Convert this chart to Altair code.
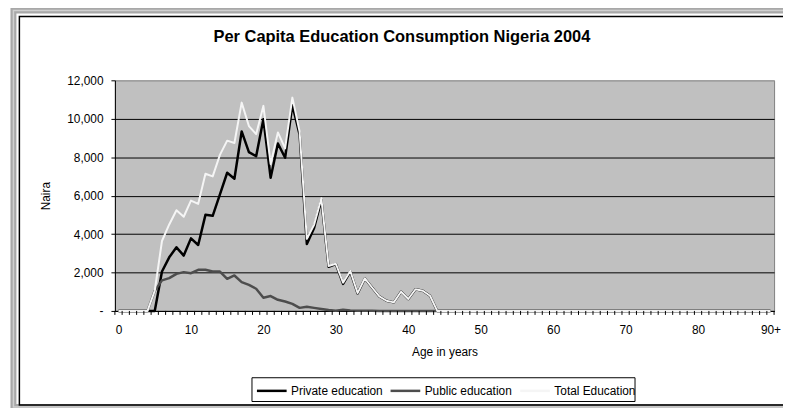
import altair as alt
import pandas as pd

# ---- data ----
ages = list(range(91))
series_names = ["Private education", "Public education", "Total Education"]

private_edu = [0, 0, 0, 0, 0, 0, 2050, 2790, 3310, 2880, 3775, 3430, 5000, 4950, 6070,
               7190, 6880, 9340, 8260, 8050, 9980, 6930, 8710, 7970, 10720, 9170, 3480,
               4320, 5780, 2295, 2440, 1405, 2050, 915, 1692, 1216, 755, 530, 445, 1000,
               620, 1130, 1050, 790] + [0] * 47
public_edu = [0, 0, 0, 0, 0, 1050, 1590, 1710, 1930, 2020, 1965, 2140, 2140, 2050, 2050,
              1670, 1845, 1500, 1360, 1155, 690, 775, 580, 490, 370, 160, 215, 160, 100,
              45, 15, 65, 30, 15, 8, 4, 0, 0, 0, 0, 0, 0, 0, 0] + [0] * 47
total_edu = [0, 0, 0, 0, 0, 1050, 3640, 4500, 5240, 4900, 5740, 5570, 7140, 7000, 8120,
             8860, 8740, 10840, 9620, 9200, 10670, 7650, 9290, 8460, 11100, 9330, 3750,
             4480, 5860, 2340, 2455, 1470, 2080, 930, 1700, 1220, 755, 530, 445, 1000,
             620, 1130, 1050, 790] + [0] * 47

x_label_values = [0, 10, 20, 30, 40, 50, 60, 70, 80, 90]
y_tick_values = [0, 2000, 4000, 6000, 8000, 10000, 12000]
minor_tick_positions = [a - 0.5 for a in range(92)]  # category boundaries

series_colors = ["#000000", "#4d4d4d", "#f5f5f5"]
chart_title = "Per Capita Education Consumption Nigeria 2004"

FONT = "Liberation Sans"


def series_df(name, vals):
    return pd.DataFrame({"age": ages, "value": vals, "series": name})


df_priv = series_df(series_names[0], private_edu)
df_pub = series_df(series_names[1], public_edu)
df_tot = series_df(series_names[2], total_edu)
df_ticks = pd.DataFrame({"age": minor_tick_positions})
df_one = pd.DataFrame({"k": [0]})
df_title = pd.DataFrame({"t": [chart_title]})

x_enc = alt.X(
    "age:Q",
    scale=alt.Scale(domain=[-0.5, 90.5], nice=False, zero=False),
    axis=alt.Axis(
        values=x_label_values,
        labelExpr="datum.value == 90 ? '90+' : datum.value",
        grid=False,
        tickSize=4,
        tickOpacity=0,
        labelPadding=10,
        labelFlush=False,
        labelOverlap=False,
        domainColor="black",
        title="Age in years",
        titlePadding=11,
        labelFontSize=12,
        titleFontSize=12,
        titleFontWeight="normal",
        labelColor="black",
        titleColor="black",
        labelFont=FONT,
        titleFont=FONT,
    ),
)

y_enc = alt.Y(
    "value:Q",
    scale=alt.Scale(domain=[0, 12000], nice=False),
    axis=alt.Axis(
        values=y_tick_values,
        labelExpr="datum.value == 0 ? '-\u00a0\u00a0\u00a0\u00a0' : format(datum.value, ',')",
        tickSize=4,
        tickColor="black",
        domainColor="black",
        gridColor={"condition": {"test": "datum.value >= 12000", "value": "#a0a0a0"},
                   "value": "black"},
        gridWidth=1,
        title="Naira",
        titlePadding=14,
        labelPadding=8,
        labelFontSize=12,
        titleFontSize=12,
        titleFontWeight="normal",
        labelColor="black",
        titleColor="black",
        labelFont=FONT,
        titleFont=FONT,
    ),
)

legend = alt.Legend(
    orient="none",
    legendX=142,
    legendY=297,
    direction="horizontal",
    title=None,
    symbolType="stroke",
    symbolSize=900,
    symbolStrokeWidth=2.5,
    labelFontSize=12,
    labelFont=FONT,
    labelColor="black",
    padding=0,
    columnPadding=2,
    labelOffset=3,
)

color_enc = alt.Color(
    "series:N",
    scale=alt.Scale(domain=series_names, range=series_colors),
    legend=legend,
)

# decorative frame of the chart object
outer = alt.Chart(df_one).mark_rect(fillOpacity=0, stroke="#a8a8a8", strokeWidth=6).encode(
    x=alt.value(-102.5), x2=alt.value(700), y=alt.value(-70.5), y2=alt.value(330)
)
outer2 = alt.Chart(df_one).mark_rect(fillOpacity=0, stroke="#d0d0d0", strokeWidth=1.5).encode(
    x=alt.value(-102.5), x2=alt.value(700), y=alt.value(-70.5), y2=alt.value(330)
)
inner = alt.Chart(df_one).mark_rect(fillOpacity=0, stroke="black", strokeWidth=1.5).encode(
    x=alt.value(-96.5), x2=alt.value(700), y=alt.value(-64.5), y2=alt.value(328)
)
legend_box = alt.Chart(df_one).mark_rect(fill="white", stroke="black", strokeWidth=1).encode(
    x=alt.value(138.5), x2=alt.value(525.5), y=alt.value(300.5), y2=alt.value(324.5)
)
title_text = alt.Chart(df_title).mark_text(
    font=FONT, fontSize=16.6, fontWeight="bold", color="black",
    align="center", baseline="middle",
).encode(text="t:N", x=alt.value(290), y=alt.value(-44))

ticks = alt.Chart(df_ticks).mark_rule(color="black", strokeWidth=1).encode(
    x=x_enc, y=alt.value(233), y2=alt.value(237)
)


def line_layer(df, width):
    return alt.Chart(df).mark_line(strokeWidth=width, strokeJoin="round").encode(
        x=x_enc, y=y_enc, color=color_enc
    )


chart = alt.layer(
    outer, outer2, inner, legend_box, title_text,
    line_layer(df_priv, 2.5),
    line_layer(df_pub, 2.5),
    line_layer(df_tot, 2),
    ticks,
).properties(
    width=666,
    height=233,
    autosize=alt.AutoSizeParams(type="none"),
    padding={"left": 108, "top": 71, "right": 9, "bottom": 96},
    background="white",
).configure_view(
    fill="#c0c0c0", stroke="#808080", strokeWidth=1
)

chart.save("out.html", embed_options={"renderer": "svg", "actions": False})
